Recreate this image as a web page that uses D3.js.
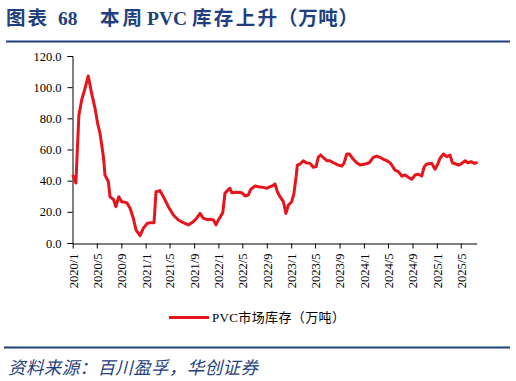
<!DOCTYPE html>
<html><head><meta charset="utf-8">
<script src="https://cdn.jsdelivr.net/npm/d3@7"></script>
<style>body{margin:0;background:#fff;overflow:hidden}</style>
</head><body>
<script>
const dates = ["2020-01-03","2020-01-10","2020-01-17","2020-02-01","2020-02-15","2020-03-03","2020-03-19","2020-04-05","2020-04-22","2020-05-05","2020-05-17","2020-06-03","2020-06-11","2020-06-28","2020-07-06","2020-07-23","2020-08-05","2020-08-19","2020-09-03","2020-09-28","2020-10-15","2020-10-31","2020-11-14","2020-12-04","2020-12-20","2021-01-09","2021-01-23","2021-02-12","2021-02-22","2021-03-14","2021-03-31","2021-04-25","2021-05-20","2021-06-14","2021-07-09","2021-08-03","2021-08-28","2021-09-14","2021-10-01","2021-10-17","2021-11-11","2021-11-20","2021-12-07","2021-12-20","2022-01-01","2022-01-23","2022-02-03","2022-02-20","2022-02-28","2022-03-09","2022-04-03","2022-04-28","2022-05-15","2022-05-31","2022-06-12","2022-07-04","2022-07-20","2022-08-14","2022-08-31","2022-09-17","2022-10-01","2022-10-12","2022-10-24","2022-11-06","2022-11-23","2022-12-06","2022-12-18","2023-01-04","2023-01-15","2023-01-26","2023-02-01","2023-02-15","2023-03-03","2023-03-17","2023-04-06","2023-04-22","2023-05-06","2023-05-17","2023-05-29","2023-06-15","2023-06-29","2023-07-15","2023-08-01","2023-08-26","2023-09-12","2023-09-23","2023-10-07","2023-10-20","2023-11-09","2023-11-26","2023-12-13","2024-01-07","2024-01-28","2024-02-17","2024-03-05","2024-03-22","2024-04-08","2024-04-25","2024-05-11","2024-05-20","2024-06-05","2024-06-22","2024-07-09","2024-07-26","2024-08-11","2024-08-28","2024-09-14","2024-09-30","2024-10-17","2024-10-30","2024-11-11","2024-12-06","2024-12-23","2025-01-06","2025-01-17","2025-02-03","2025-02-20","2025-03-08","2025-03-20","2025-04-06","2025-04-22","2025-05-06","2025-05-23","2025-06-05","2025-06-22","2025-07-08","2025-07-18"];
const values = [43.0,41.5,38.5,82.0,91.8,99.3,107.2,96.0,86.4,76.8,70.4,55.4,43.6,39.3,29.7,28.0,23.3,29.7,26.5,25.9,22.3,15.9,8.3,4.7,9.4,12.6,13.0,13.0,32.9,33.6,29.7,23.3,18.0,14.8,13.0,11.6,13.7,15.9,19.0,15.9,14.8,15.2,14.8,11.6,14.8,19.5,31.9,34.4,35.1,32.3,32.5,32.3,30.2,30.8,34.4,36.6,36.1,35.7,35.1,36.1,36.8,37.9,32.9,29.7,26.5,19.0,24.4,26.5,31.9,42.5,50.0,50.7,52.8,51.5,51.1,48.6,49.0,55.0,56.5,54.4,52.8,52.8,51.5,50.0,49.4,51.1,57.1,57.1,53.7,51.5,50.0,50.7,51.5,55.0,55.8,55.0,53.7,52.8,51.5,50.0,46.8,45.8,43.0,43.6,42.2,40.9,43.6,44.1,43.0,49.0,50.7,51.1,47.3,50.7,54.4,57.1,55.4,56.5,51.5,50.7,50.0,51.1,52.8,51.5,52.2,51.1,51.5];
const yTicks = [0,20,40,60,80,100,120];
const xTickLabels = ["2020/1","2020/5","2020/9","2021/1","2021/5","2021/9","2022/1","2022/5","2022/9","2023/1","2023/5","2023/9","2024/1","2024/5","2024/9","2025/1","2025/5"];
const seriesName = "PVC市场库存（万吨）";
const titleParts = ["图表", "68", "本周", "PVC", "库存上升", "（万吨）"];
const sourceText = "资料来源：百川盈孚，华创证券";

const W = 516, H = 381;
const svg = d3.select("body").append("svg").attr("width", W).attr("height", H);
const blue = "#1F3F80";
const red = "#E8141C";
const serif = "'Liberation Serif','Times New Roman','Noto Sans CJK SC',serif";

// title
const titleX = [6, 58, 100, 147, 192, 278];
const titleW = [41, null, 42, null, 85, 80];
titleParts.forEach((t, i) => {
  const el = svg.append("text").attr("x", titleX[i]).attr("y", 25)
    .attr("font-family", serif).attr("font-weight", "bold").attr("font-size", 19.5)
    .attr("fill", blue).text(t);
  if (titleW[i]) el.attr("textLength", titleW[i]).attr("lengthAdjust", "spacing");
});
svg.append("line").attr("x1", 6).attr("x2", 510).attr("y1", 41.5).attr("y2", 41.5)
  .attr("stroke", blue).attr("stroke-width", 2);

const parse = d3.utcParse("%Y-%m-%d");
const data = dates.map((d, i) => ({date: parse(d), value: values[i]}));
const tickDates = xTickLabels.map(s => { const [y, m] = s.split("/").map(Number); return new Date(Date.UTC(y, m - 1, 1)); });

const x = d3.scaleUtc().domain([new Date(Date.UTC(2020,0,1)), new Date(Date.UTC(2025,6,20))]).range([72.7, 476.7]);
const y = d3.scaleLinear().domain([0, 120]).range([243, 56]);

// y axis
const ya = svg.append("g").attr("transform", "translate(72.5,0)")
  .call(d3.axisLeft(y).tickValues(yTicks).tickFormat(d3.format(".1f")).tickSize(5).tickPadding(6));
ya.select(".domain").attr("stroke", "#000");
ya.selectAll("text").attr("font-family", serif).attr("font-size", 12.5).attr("fill", "#000");

// x axis
const xa = svg.append("g").attr("transform", "translate(0,243.5)")
  .call(d3.axisBottom(x).tickValues(tickDates).tickFormat((d, i) => xTickLabels[i]).tickSize(5).tickSizeOuter(0));
xa.select(".domain").attr("stroke", "#000");
xa.selectAll("text").attr("font-family", serif).attr("font-size", 12.5).attr("fill", "#000")
  .attr("transform", "rotate(-90)").attr("text-anchor", "end").attr("dy", "0.35em").attr("x", -10).attr("y", 0);

// line
const line = d3.line().x(d => x(d.date)).y(d => y(d.value)).curve(d3.curveLinear);
svg.append("path").datum(data).attr("d", line).attr("fill", "none")
  .attr("stroke", red).attr("stroke-width", 3).attr("stroke-linejoin", "round").attr("stroke-linecap", "round");

// legend
svg.append("line").attr("x1", 169).attr("x2", 209).attr("y1", 317.5).attr("y2", 317.5)
  .attr("stroke", red).attr("stroke-width", 3);
svg.append("text").attr("x", 212).attr("y", 322)
  .attr("font-family", serif).attr("font-size", 13).attr("fill", "#000")
  .attr("textLength", 133).attr("lengthAdjust", "spacing").text(seriesName);

// source
svg.append("line").attr("x1", 4).attr("x2", 510).attr("y1", 347.5).attr("y2", 347.5)
  .attr("stroke", blue).attr("stroke-width", 2);
svg.append("text").attr("x", 8).attr("y", 374)
  .attr("font-family", "'Noto Sans CJK SC',sans-serif").attr("font-style", "italic").attr("font-size", 17.5)
  .attr("textLength", 250).attr("lengthAdjust", "spacing")
  .attr("fill", blue).text(sourceText);
</script>
</body></html>
